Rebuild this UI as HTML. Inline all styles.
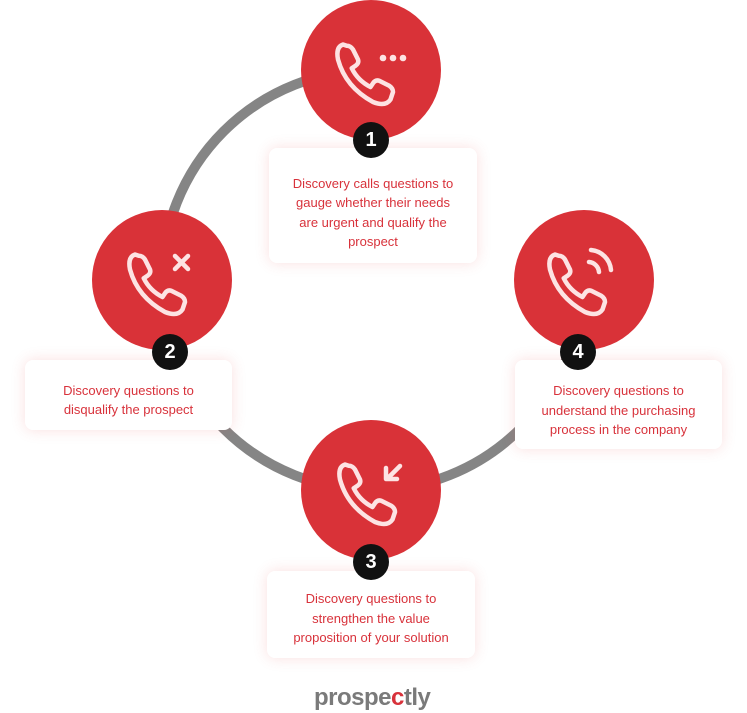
<!DOCTYPE html>
<html><head><style>
body{margin:0;width:747px;height:713px;background:#fff;position:relative;overflow:hidden;font-family:"Liberation Sans",sans-serif}
.card{position:absolute;background:#fff;border-radius:8px;box-shadow:0 0 14px rgba(230,80,80,0.18);color:#d8323b;font-size:13px;line-height:19.5px;text-align:center;box-sizing:border-box;display:flex;align-items:center;justify-content:center;padding:0 18px}
.b{position:absolute;width:36px;height:36px;border-radius:50%;background:#111;color:#fff;font-weight:bold;font-size:20px;line-height:36px;text-align:center}
</style></head><body>
<svg width="747" height="713" style="position:absolute;left:0;top:0">
<path d="M372,70 A210,210 0 1 0 582,280" fill="none" stroke="#858585" stroke-width="10"/>
<g fill="#d93238">
<circle cx="371" cy="70" r="70"/><circle cx="162" cy="280" r="70"/><circle cx="584" cy="280" r="70"/><circle cx="371" cy="490" r="70"/>
</g>
<defs><path id="ph" d="M-20,-22 q-6,2 -4,12 q6,22 28,34 q10,4 14,-2 l2,-6 q0,-3 -3,-5 l-8,-4 q-3,-1 -5,2 l-2,3 q-10,-5 -15,-15 l3,-2 q3,-2 2,-5 l-4,-8 q-2,-3 -5,-3 z" fill="none" stroke="#fde3e3" stroke-width="3.6" stroke-linejoin="round"/></defs>
<use href="#ph" transform="translate(368,72) scale(1.25)"/>
<g fill="#fde3e3"><circle cx="383" cy="58" r="3.3"/><circle cx="393" cy="58" r="3.3"/><circle cx="403" cy="58" r="3.3"/></g>
<use href="#ph" transform="translate(160,282) scale(1.25)"/>
<path d="M175,256 l13,13 M188,256 l-13,13" stroke="#fde3e3" stroke-width="4.5" stroke-linecap="round"/>
<use href="#ph" transform="translate(580,282) scale(1.25)"/>
<path d="M589,262 a11,11 0 0 1 10,10 M591,250 a22,22 0 0 1 20,20" fill="none" stroke="#fde3e3" stroke-width="4.5" stroke-linecap="round"/>
<use href="#ph" transform="translate(370,492) scale(1.25)"/>
<path d="M400,466 l-13,13 M386,468 v11 h11" fill="none" stroke="#fde3e3" stroke-width="4.5" stroke-linecap="round" stroke-linejoin="round"/>
</svg>
<div class="card" style="left:269px;top:148px;width:208px;height:115px;padding:14px 20px 0">Discovery calls questions to gauge whether their needs are urgent and qualify the prospect</div>
<div class="card" style="left:25px;top:360px;width:207px;height:70px;padding-top:10px">Discovery questions to disqualify the prospect</div>
<div class="card" style="left:515px;top:360px;width:207px;height:89px;padding-top:12px">Discovery questions to understand the purchasing process in the company</div>
<div class="card" style="left:267px;top:571px;width:208px;height:87px;padding:8px 20px 0">Discovery questions to strengthen the value proposition of your solution</div>
<div class="b" style="left:353px;top:122px">1</div>
<div class="b" style="left:152px;top:334px">2</div>
<div class="b" style="left:560px;top:334px">4</div>
<div class="b" style="left:353px;top:544px">3</div>
<div style="position:absolute;left:314px;top:684px;font-size:24px;font-weight:bold;color:#7a7a7a;letter-spacing:-0.5px;line-height:28px">prospe<span style="color:#d8323b">c</span>tly</div>
</body></html>
